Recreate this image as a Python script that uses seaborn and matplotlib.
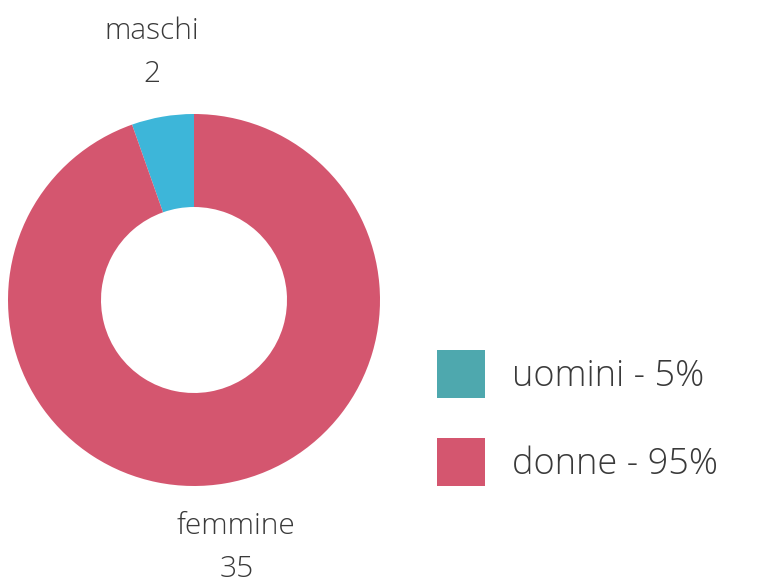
import numpy as np
import matplotlib
matplotlib.use("Agg")
import matplotlib.pyplot as plt
import matplotlib.patches as mpatches
import seaborn as sns

# data
slice_names = ["maschi", "femmine"]
slice_values = [2, 35]
legend_labels = ["uomini - 5%", "donne - 95%"]

slice_colors = ["#3db6d9", "#d4566f"]
legend_colors = ["#4ea8ae", "#d4566f"]
text_color = "#3a3a3a"

sns.set_theme(style="white")
plt.rcParams['font.family'] = ['Open Sans', 'DejaVu Sans']

fig = plt.figure(figsize=(7.57, 5.86), dpi=100)
W, H = 757, 586
# donut axes: center ~(194,300) px, outer radius ~186 px
ax = fig.add_axes([8 / W, 100 / H, 372 / W, 372 / H])

wedges, _ = ax.pie(slice_values, colors=slice_colors, startangle=90,
                   counterclock=True, wedgeprops=dict(width=0.5, linewidth=0))
ax.set_xlim(-1, 1)
ax.set_ylim(-1, 1)
ax.set_aspect("equal")
ax.axis("off")

# outside labels along each wedge's middle angle
for w, name, val in zip(wedges, slice_names, slice_values):
    mid = np.deg2rad((w.theta1 + w.theta2) / 2)
    x, y = 1.35 * np.cos(mid), 1.35 * np.sin(mid)
    ax.text(x, y, f"{name}\n{val}", ha="center", va="center", fontsize=21.5,
            color=text_color, fontweight="light", linespacing=1.6, clip_on=False)

handles = [mpatches.Patch(color=c, linewidth=0) for c in legend_colors]
fig.legend(handles, legend_labels, loc="upper left",
           bbox_to_anchor=(437 / W, 1 - 350 / H), frameon=False,
           borderpad=0, borderaxespad=0,
           handlelength=1.33, handleheight=1.68, handletextpad=0.75,
           labelspacing=1.1, labelcolor=text_color,
           prop=dict(family=['Open Sans', 'DejaVu Sans'], weight="light", size=26))

fig.savefig("out.png", dpi=100, facecolor="white")
